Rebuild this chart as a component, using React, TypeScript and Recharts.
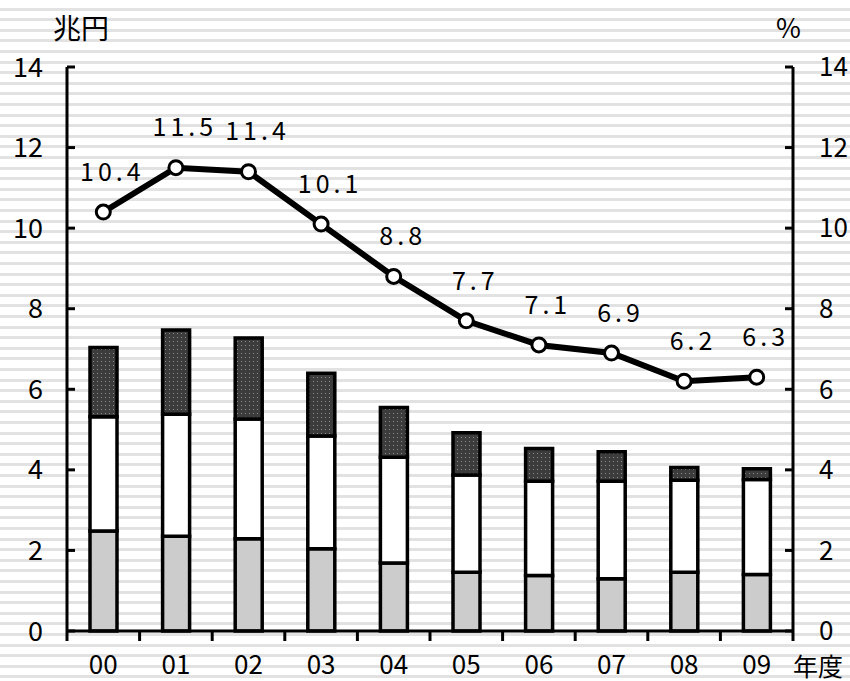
import React from "react";
import { ComposedChart, Bar, Line, XAxis, YAxis, LabelList } from "recharts";

const years = ["00", "01", "02", "03", "04", "05", "06", "07", "08", "09"];
const baseValues = [2.48, 2.35, 2.29, 2.04, 1.69, 1.46, 1.38, 1.3, 1.46, 1.4];
const middleValues = [2.84, 3.03, 2.97, 2.8, 2.62, 2.41, 2.34, 2.42, 2.28, 2.36];
const topValues = [1.72, 2.09, 2.01, 1.56, 1.24, 1.05, 0.81, 0.73, 0.32, 0.27];
const ratioValues = [10.4, 11.5, 11.4, 10.1, 8.8, 7.7, 7.1, 6.9, 6.2, 6.3];
const yTicks = [0, 2, 4, 6, 8, 10, 12, 14];

const data = years.map((year, i) => ({
  year,
  base: baseValues[i],
  middle: middleValues[i],
  top: topValues[i],
  ratio: ratioValues[i],
}));

const FONT = "'Noto Sans CJK JP', 'Noto Sans', sans-serif";

// category labels at band centers, tick marks on the band edges
function YearTick(props: any) {
  const { x, y, payload, index, visibleTicksCount } = props;
  const half = payload.offset || 36.3;
  return (
    <g>
      <line x1={x - half} y1={y} x2={x - half} y2={y + 10} stroke="#000" strokeWidth={3} />
      {index === visibleTicksCount - 1 && (
        <line x1={x + half} y1={y} x2={x + half} y2={y + 10} stroke="#000" strokeWidth={3} />
      )}
      <text x={x} y={y + 34} dy="0.35em" textAnchor="middle" fontSize={26} fill="#000">
        {payload.value}
      </text>
    </g>
  );
}

function RatioLabel(props: any) {
  const { x, y, value } = props;
  return (
    <text
      x={x + 9}
      y={y - 40}
      dy="0.35em"
      textAnchor="middle"
      fontSize={25}
      letterSpacing={4}
      fill="#000"
    >
      {Number(value).toFixed(1)}
    </text>
  );
}

export default function App() {
  return (
    <div
      style={{
        position: "relative",
        width: 850,
        height: 681,
        fontFamily: FONT,
        background:
          "repeating-linear-gradient(to bottom, #ffffff 0px, #ffffff 7.6px, #e2e2e2 7.6px, #e2e2e2 10.6px)",
      }}
    >
      <style>{`body{margin:0}`}</style>
      <ComposedChart
        width={850}
        height={681}
        data={data}
        margin={{ top: 67, right: 0, bottom: 0, left: 7 }}
        style={{ fontFamily: FONT }}
      >
        <defs>
          <pattern id="dots" width="4" height="4" patternUnits="userSpaceOnUse">
            <rect width="4" height="4" fill="#3c3c3c" />
            <rect x="1" y="1" width="1" height="1" fill="#8c8c8c" />
          </pattern>
        </defs>
        <XAxis
          dataKey="year"
          height={50}
          axisLine={{ stroke: "#000", strokeWidth: 3 }}
          tickLine={false}
          tickSize={0}
          tickMargin={0}
          tick={<YearTick />}
          interval={0}
        />
        <YAxis
          yAxisId="left"
          width={60}
          domain={[0, 14]}
          ticks={yTicks}
          interval={0}
          axisLine={{ stroke: "#000", strokeWidth: 3 }}
          tickLine={{ stroke: "#000", strokeWidth: 3 }}
          tickSize={-8}
          tickMargin={32}
          tick={{ fill: "#000", fontSize: 27 }}
        />
        <YAxis
          yAxisId="right"
          orientation="right"
          width={57}
          domain={[0, 14]}
          ticks={yTicks}
          interval={0}
          axisLine={{ stroke: "#000", strokeWidth: 3 }}
          tickLine={{ stroke: "#000", strokeWidth: 3 }}
          tickSize={-8}
          tickMargin={34}
          tick={{ fill: "#000", fontSize: 26 }}
        />
        <Bar yAxisId="left" dataKey="base" stackId="a" barSize={27} fill="#cccccc" stroke="#000" strokeWidth={3.5} isAnimationActive={false} />
        <Bar yAxisId="left" dataKey="middle" stackId="a" barSize={27} fill="#ffffff" stroke="#000" strokeWidth={3.5} isAnimationActive={false} />
        <Bar yAxisId="left" dataKey="top" stackId="a" barSize={27} fill="url(#dots)" stroke="#000" strokeWidth={3.5} isAnimationActive={false} />
        <Line
          yAxisId="right"
          dataKey="ratio"
          stroke="#000"
          strokeWidth={6}
          dot={{ r: 7, fill: "#fff", stroke: "#000", strokeWidth: 3 }}
          isAnimationActive={false}
        >
          <LabelList dataKey="ratio" content={<RatioLabel />} />
        </Line>
      </ComposedChart>
      <div style={{ position: "absolute", left: 53, top: 11, fontSize: 28, lineHeight: "32px" }}>兆円</div>
      <div style={{ position: "absolute", left: 776, top: 11, fontSize: 27, lineHeight: "32px" }}>%</div>
      <div style={{ position: "absolute", left: 793, top: 653, fontSize: 25, lineHeight: "25px" }}>年度</div>
    </div>
  );
}
